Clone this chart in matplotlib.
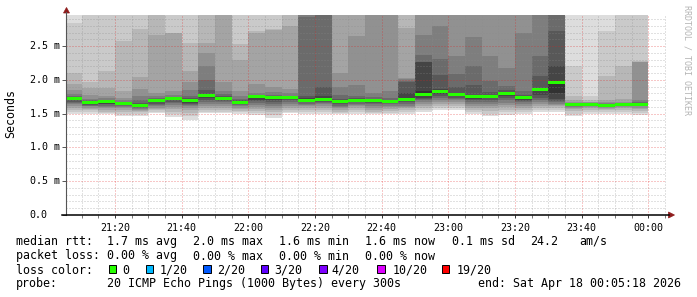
import datetime as dt
import numpy as np
import matplotlib
matplotlib.use("Agg")
import matplotlib.pyplot as plt
import matplotlib.dates as mdates
import matplotlib.transforms as mtrans
from matplotlib.ticker import MultipleLocator
from matplotlib.patches import Polygon, Rectangle
from matplotlib.lines import Line2D

plt.rcParams['font.family'] = ['DejaVu Sans Mono']

# one column per 5 minute step, first one starts 21:05
first_step = dt.datetime(2026, 4, 17, 21, 5)
view_start = dt.datetime(2026, 4, 17, 21, 5, 18)
view_end = dt.datetime(2026, 4, 18, 0, 5, 18)

# median rtt per step (ms)
medians = [1.731, 1.666, 1.677, 1.647, 1.617, 1.696, 1.726, 1.691, 1.766, 1.726,
           1.666, 1.751, 1.736, 1.736, 1.696, 1.716, 1.677, 1.696, 1.696, 1.681,
           1.716, 1.785, 1.825, 1.785, 1.755, 1.761, 1.795, 1.736, 1.855, 1.969,
           1.642, 1.642, 1.627, 1.642, 1.642]

# smoke: upper ping of each band, outer band first (ping20 .. ping11)
top_edges = [
    [3.1, 2.85, 2.11, 1.94, 1.85, 1.79, 1.76, 1.75, 1.745, 1.735],
    [3.1, 3.0, 1.97, 1.88, 1.78, 1.72, 1.70, 1.69, 1.68, 1.67],
    [3.1, 3.0, 2.14, 1.88, 1.77, 1.73, 1.71, 1.70, 1.69, 1.68],
    [3.1, 3.0, 2.58, 1.84, 1.74, 1.70, 1.68, 1.665, 1.655, 1.65],
    [3.1, 3.0, 2.76, 2.05, 1.86, 1.77, 1.70, 1.66, 1.64, 1.625],
    [3.1, 3.05, 3.0, 2.66, 1.81, 1.76, 1.73, 1.715, 1.705, 1.70],
    [3.1, 3.0, 2.70, 2.69, 1.84, 1.78, 1.755, 1.74, 1.733, 1.728],
    [3.1, 3.0, 2.55, 2.13, 1.97, 1.85, 1.77, 1.73, 1.71, 1.695],
    [3.1, 3.05, 3.0, 2.55, 2.40, 2.20, 2.00, 1.85, 1.79, 1.775],
    [3.1, 3.05, 3.0, 2.98, 1.97, 1.84, 1.79, 1.76, 1.745, 1.73],
    [3.1, 3.0, 2.53, 2.30, 1.84, 1.76, 1.72, 1.70, 1.685, 1.672],
    [3.1, 3.0, 2.72, 2.70, 1.94, 1.81, 1.78, 1.765, 1.758, 1.754],
    [3.1, 3.0, 2.76, 2.74, 1.90, 1.82, 1.78, 1.76, 1.745, 1.74],
    [3.1, 3.05, 3.0, 2.80, 1.87, 1.80, 1.77, 1.755, 1.745, 1.74],
    [3.2, 3.15, 3.1, 3.05, 3.02, 3.0, 2.93, 1.77, 1.73, 1.70],
    [3.2, 3.15, 3.1, 3.05, 3.02, 3.0, 2.99, 1.89, 1.76, 1.72],
    [3.1, 3.05, 3.0, 2.98, 2.11, 1.90, 1.78, 1.72, 1.70, 1.68],
    [3.1, 3.05, 3.0, 2.98, 2.65, 1.93, 1.76, 1.73, 1.71, 1.70],
    [3.2, 3.1, 3.05, 3.0, 2.98, 1.81, 1.75, 1.72, 1.705, 1.70],
    [3.2, 3.1, 3.05, 3.0, 2.98, 1.84, 1.73, 1.70, 1.69, 1.685],
    [3.1, 3.05, 3.0, 2.77, 2.03, 2.02, 1.99, 1.97, 1.80, 1.72],
    [3.2, 3.1, 3.05, 3.0, 2.98, 2.67, 2.37, 2.27, 2.26, 1.83],
    [3.2, 3.1, 3.05, 3.0, 2.98, 2.80, 2.31, 2.08, 1.86, 1.83],
    [3.2, 3.1, 3.05, 3.0, 2.98, 2.36, 2.09, 1.90, 1.80, 1.79],
    [3.2, 3.1, 3.05, 3.0, 2.98, 2.63, 2.20, 1.93, 1.78, 1.76],
    [3.2, 3.1, 3.05, 3.0, 2.98, 2.35, 1.98, 1.82, 1.78, 1.765],
    [3.2, 3.1, 3.05, 3.0, 2.98, 2.18, 1.91, 1.85, 1.81, 1.80],
    [3.2, 3.1, 3.05, 3.0, 2.98, 2.70, 1.83, 1.78, 1.75, 1.74],
    [3.2, 3.1, 3.05, 3.0, 2.99, 2.98, 2.36, 2.06, 1.88, 1.86],
    [3.2, 3.15, 3.1, 3.05, 3.02, 3.0, 2.98, 2.72, 2.20, 1.99],
    [3.1, 2.20, 1.76, 1.70, 1.68, 1.665, 1.655, 1.65, 1.647, 1.645],
    [3.1, 1.76, 1.70, 1.68, 1.67, 1.66, 1.652, 1.648, 1.645, 1.643],
    [3.1, 2.72, 2.06, 1.71, 1.68, 1.66, 1.65, 1.64, 1.635, 1.63],
    [3.1, 3.0, 2.21, 1.72, 1.68, 1.665, 1.655, 1.648, 1.645, 1.643],
    [3.1, 3.0, 2.28, 2.27, 2.26, 1.70, 1.67, 1.655, 1.648, 1.644],
]

# lower ping of each band, outer band first (ping1 .. ping10)
bottom_edges = [
    [1.50, 1.53, 1.56, 1.59, 1.61, 1.64, 1.66, 1.68, 1.70, 1.72],
    [1.50, 1.53, 1.55, 1.57, 1.59, 1.61, 1.62, 1.635, 1.645, 1.655],
    [1.49, 1.51, 1.53, 1.55, 1.58, 1.60, 1.62, 1.64, 1.65, 1.665],
    [1.47, 1.50, 1.53, 1.56, 1.58, 1.60, 1.615, 1.625, 1.635, 1.642],
    [1.47, 1.50, 1.52, 1.54, 1.56, 1.575, 1.59, 1.60, 1.61, 1.615],
    [1.51, 1.53, 1.55, 1.57, 1.59, 1.61, 1.63, 1.65, 1.67, 1.69],
    [1.45, 1.49, 1.53, 1.57, 1.60, 1.63, 1.66, 1.68, 1.70, 1.715],
    [1.41, 1.46, 1.51, 1.55, 1.58, 1.61, 1.63, 1.65, 1.665, 1.68],
    [1.51, 1.53, 1.56, 1.59, 1.62, 1.65, 1.68, 1.71, 1.73, 1.75],
    [1.51, 1.53, 1.55, 1.58, 1.61, 1.64, 1.67, 1.69, 1.705, 1.715],
    [1.50, 1.52, 1.54, 1.57, 1.59, 1.61, 1.625, 1.64, 1.65, 1.66],
    [1.48, 1.51, 1.54, 1.57, 1.60, 1.63, 1.66, 1.69, 1.71, 1.73],
    [1.44, 1.48, 1.52, 1.56, 1.59, 1.62, 1.65, 1.68, 1.70, 1.72],
    [1.51, 1.53, 1.56, 1.59, 1.62, 1.65, 1.68, 1.70, 1.72, 1.735],
    [1.50, 1.52, 1.55, 1.58, 1.61, 1.63, 1.65, 1.67, 1.68, 1.69],
    [1.50, 1.52, 1.55, 1.58, 1.61, 1.64, 1.66, 1.68, 1.70, 1.71],
    [1.49, 1.51, 1.53, 1.56, 1.58, 1.60, 1.62, 1.64, 1.655, 1.67],
    [1.50, 1.52, 1.55, 1.58, 1.61, 1.63, 1.65, 1.67, 1.68, 1.69],
    [1.49, 1.51, 1.53, 1.56, 1.59, 1.62, 1.64, 1.66, 1.68, 1.69],
    [1.49, 1.51, 1.54, 1.57, 1.60, 1.62, 1.64, 1.655, 1.665, 1.675],
    [1.50, 1.52, 1.55, 1.58, 1.60, 1.62, 1.65, 1.67, 1.69, 1.705],
    [1.52, 1.55, 1.58, 1.61, 1.64, 1.67, 1.70, 1.72, 1.74, 1.76],
    [1.55, 1.58, 1.61, 1.64, 1.67, 1.70, 1.73, 1.76, 1.79, 1.81],
    [1.55, 1.58, 1.61, 1.64, 1.67, 1.70, 1.72, 1.74, 1.76, 1.775],
    [1.50, 1.53, 1.56, 1.59, 1.62, 1.65, 1.68, 1.70, 1.72, 1.74],
    [1.46, 1.50, 1.54, 1.58, 1.62, 1.65, 1.68, 1.71, 1.73, 1.75],
    [1.48, 1.52, 1.56, 1.60, 1.63, 1.66, 1.70, 1.73, 1.76, 1.78],
    [1.50, 1.53, 1.56, 1.59, 1.62, 1.65, 1.67, 1.69, 1.71, 1.725],
    [1.52, 1.55, 1.58, 1.61, 1.64, 1.67, 1.70, 1.73, 1.78, 1.84],
    [1.52, 1.55, 1.58, 1.61, 1.63, 1.65, 1.67, 1.69, 1.72, 1.80],
    [1.46, 1.50, 1.54, 1.57, 1.59, 1.605, 1.615, 1.625, 1.632, 1.638],
    [1.50, 1.53, 1.56, 1.58, 1.60, 1.61, 1.62, 1.63, 1.635, 1.64],
    [1.50, 1.53, 1.55, 1.57, 1.59, 1.60, 1.61, 1.615, 1.62, 1.625],
    [1.50, 1.53, 1.56, 1.58, 1.60, 1.61, 1.62, 1.63, 1.635, 1.64],
    [1.48, 1.51, 1.54, 1.57, 1.59, 1.61, 1.62, 1.63, 1.635, 1.64],
]

ytick_values = [0.0, 0.5, 1.0, 1.5, 2.0, 2.5]
ytick_labels = ["0.0", "0.5 m", "1.0 m", "1.5 m", "2.0 m", "2.5 m"]

loss_labels = ["0", "1/20", "2/20", "3/20", "4/20", "10/20", "19/20"]
loss_colors = ["#26ff00", "#00b8ff", "#0059ff", "#5e00ff", "#7e00ff", "#dd00ff", "#ff0000"]

W, H = 697, 297
fig = plt.figure(figsize=(W / 100, H / 100), dpi=100)
fig.patch.set_facecolor("white")
# pixel coords, y going down
pix = mtrans.Affine2D().scale(1.0 / W, -1.0 / H).translate(0, 1) + fig.transFigure

ax = fig.add_axes([66 / W, 1 - 215 / H, 600 / W, 200.5 / H])
ax.set_facecolor("white")

nsteps = len(medians)
starts = [first_step + dt.timedelta(minutes=5 * i) for i in range(nsteps)]
xs = mdates.date2num(starts)
width = 5.0 / 1440

top = np.array(top_edges)
bot = np.array(bottom_edges)
half = top.shape[1]
for k in range(half):
    g = int(190 / half * (half - (k + 1))) + 50
    shade = "#%02x%02x%02x" % (g, g, g)
    ax.bar(xs, top[:, k] - bot[:, k], bottom=bot[:, k], width=width, align="edge",
           color=shade, linewidth=0, antialiased=False, zorder=1)

ax.bar(xs, 0.044, bottom=np.array(medians) - 0.022, width=width, align="edge",
       color=loss_colors[0], linewidth=0, antialiased=False, zorder=3)

ax.set_xlim(mdates.date2num(view_start), mdates.date2num(view_end))
ax.set_ylim(0, 2.97)

ax.xaxis.set_major_locator(mdates.MinuteLocator(byminute=[0, 20, 40]))
ax.xaxis.set_minor_locator(mdates.MinuteLocator(byminute=range(0, 60, 5)))
ax.xaxis.set_major_formatter(mdates.DateFormatter("%H:%M"))
ax.yaxis.set_major_locator(MultipleLocator(0.5))
ax.yaxis.set_minor_locator(MultipleLocator(0.1))
ax.set_yticklabels([])

ax.set_axisbelow(False)
ax.grid(which="minor", color="#8a8a8a", alpha=0.5, linewidth=0.72, linestyle=(0, (1, 2)))
ax.grid(which="major", color="#e02020", alpha=0.5, linewidth=0.72, linestyle=(0, (1, 2)))

ax.tick_params(axis="x", which="major", length=2, width=0.7, pad=4, labelsize=7.2, color="#333333")
ax.tick_params(axis="x", which="minor", length=2, width=0.7, color="#777777")
ax.tick_params(axis="y", which="major", length=3, width=0.7, color="#555555")
ax.tick_params(axis="y", which="minor", length=0)
for s in ax.spines.values():
    s.set_visible(False)

for v, lab in zip(ytick_values, ytick_labels):
    ax.text(-36.5 / 600, v, lab, transform=ax.get_yaxis_transform(), ha="left",
            va="center", fontsize=7.2)

# axis lines and arrows
arrow_col = "#8e1b1b"
fig.add_artist(Line2D([66, 66], [215, 12], transform=pix, color="#555555", linewidth=0.8))
fig.add_artist(Line2D([62, 669], [215, 215], transform=pix, color="black", linewidth=1.1))
fig.add_artist(Polygon([[66.5, 7.5], [63.5, 13], [69.5, 13]], closed=True, transform=pix,
                       facecolor=arrow_col, edgecolor=arrow_col, linewidth=0.5))
fig.add_artist(Polygon([[674.5, 215], [668.5, 212], [668.5, 218]], closed=True, transform=pix,
                       facecolor=arrow_col, edgecolor=arrow_col, linewidth=0.5))

fig.text(10.8 / W, 1 - 114 / H, "Seconds", rotation=90, ha="center", va="center", fontsize=8.4)
fig.text(687.5 / W, 1 - 5 / H, "RRDTOOL / TOBI OETIKER", rotation=270, ha="center", va="top",
         fontsize=6, color="#b4b4b4")

fs = 8.4
line1 = [("median rtt:", 16), ("1.7 ms avg", 107.3), ("2.0 ms max", 193.3), ("1.6 ms min", 279.3),
         ("1.6 ms now", 365), ("0.1 ms sd", 451.7), ("24.2", 530), ("am/s", 579.3)]
line2 = [("packet loss:", 16), ("0.00 % avg", 107.3), ("0.00 % max", 193.3), ("0.00 % min", 279.3),
         ("0.00 % now", 365)]
line4 = [("probe:", 16), ("20 ICMP Echo Pings (1000 Bytes) every 300s", 107.3),
         ("end: Sat Apr 18 00:05:18 2026", 478.3)]
for items, base in [(line1, 245), (line2, 259.5), (line4, 287.5)]:
    for txt, x in items:
        fig.text(x, base, txt, transform=pix, ha="left", va="baseline", fontsize=fs)

fig.text(16, 273.5, "loss color:", transform=pix, ha="left", va="baseline", fontsize=fs)
box_x = [109, 146, 203.3, 261, 319.3, 377.3, 441.7]
lab_x = [122.7, 159.3, 216.7, 274, 331.7, 392.7, 456.7]
for bx, lx, lab, col in zip(box_x, lab_x, loss_labels, loss_colors):
    fig.add_artist(Rectangle((bx, 265.3), 7.2, 7.4, transform=pix, facecolor=col,
                             edgecolor="black", linewidth=0.7))
    fig.text(lx, 273.5, lab, transform=pix, ha="left", va="baseline", fontsize=fs)

fig.savefig("out.png", dpi=100, facecolor="white")
